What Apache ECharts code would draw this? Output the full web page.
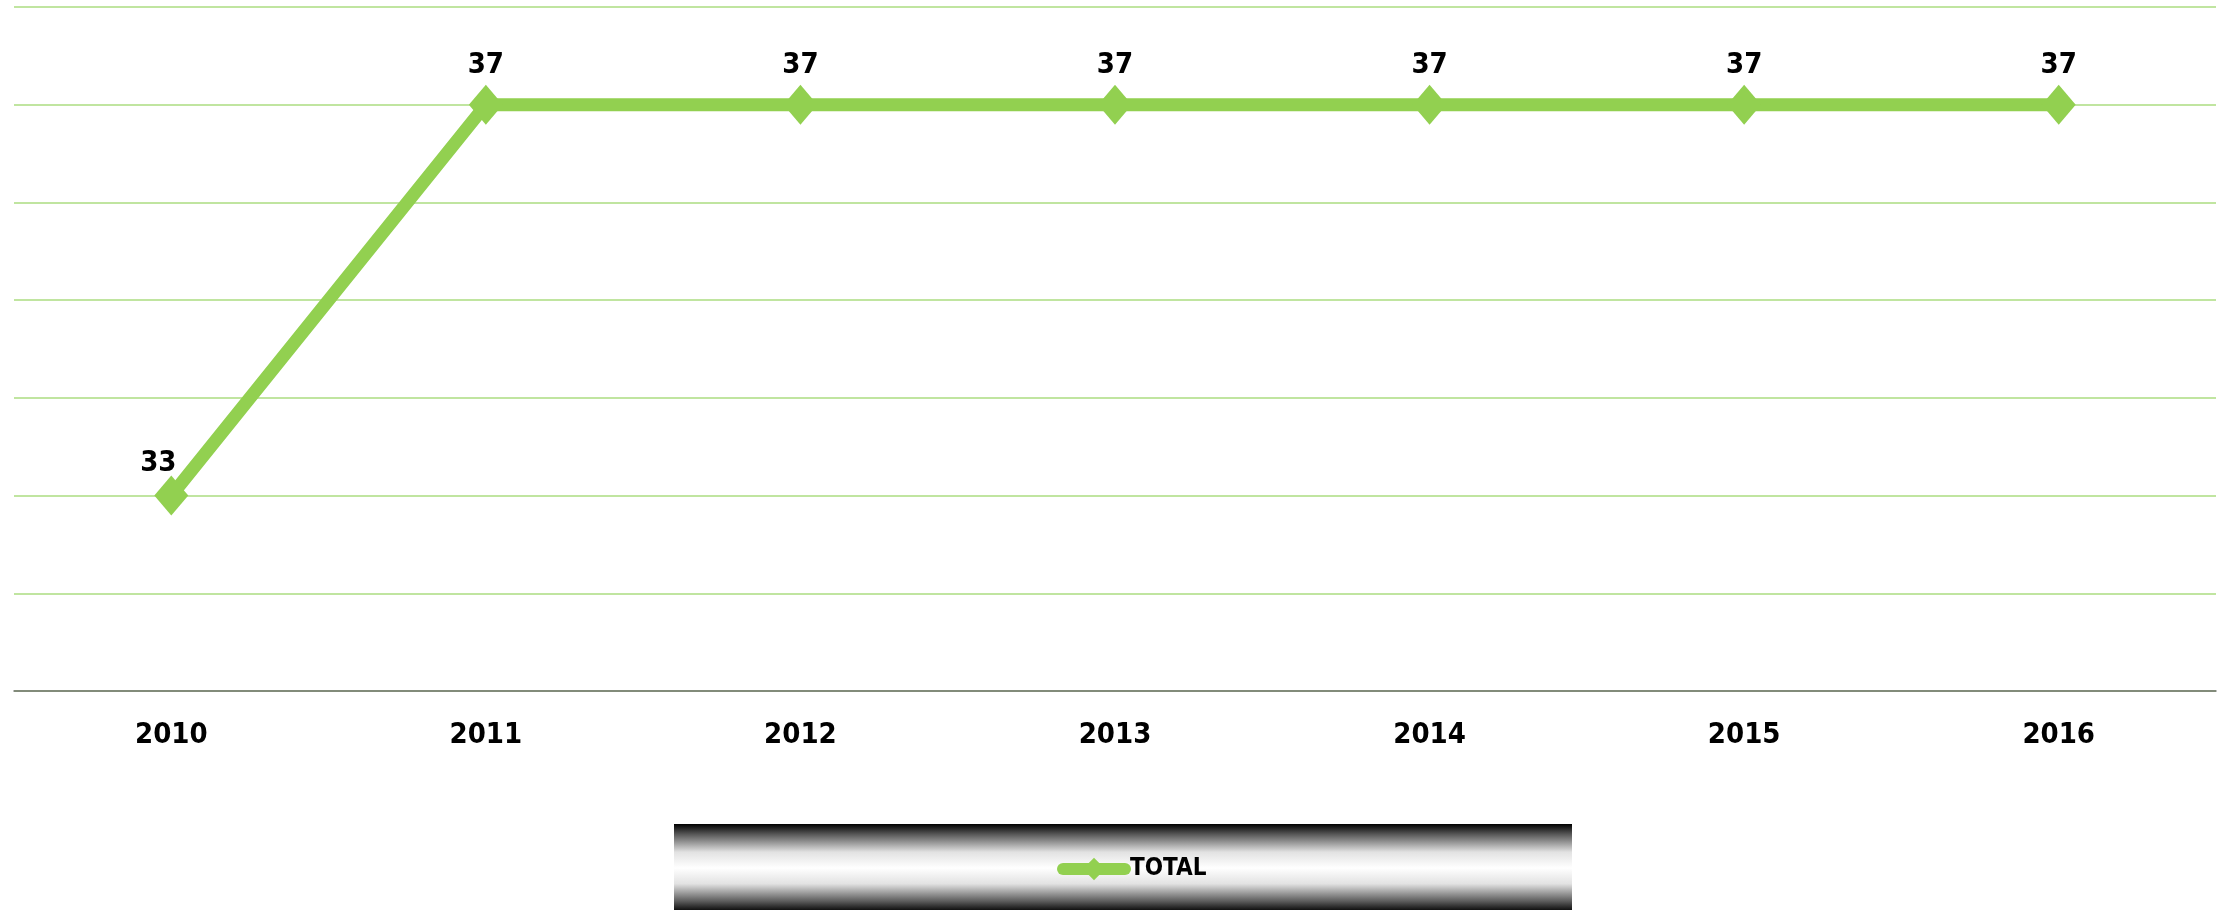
<!DOCTYPE html>
<html>
<head>
<meta charset="utf-8">
<script src="https://cdn.jsdelivr.net/npm/echarts@6/dist/echarts.min.js"></script>
<style>
  html, body { margin: 0; padding: 0; background: #fff; }
  #chart { width: 2224px; height: 910px; }
</style>
</head>
<body>
<div id="chart"></div>
<script>
const years = ["2010", "2011", "2012", "2013", "2014", "2015", "2016"];
const totals = [33, 37, 37, 37, 37, 37, 37];
const seriesName = "TOTAL";

const green = "#92D050";
const font = "'DejaVu Sans Condensed', 'Liberation Sans Narrow', sans-serif";

const chart = echarts.init(document.getElementById("chart"));

// first label sits a bit left and lower than the rest
const points = totals.map((v, i) => {
  if (i === 0) {
    return { value: v, label: { offset: [-13, 7] } };
  }
  return v;
});

const option = {
  animation: false,
  grid: { left: 14, right: 8, top: 7, bottom: 219 },
  graphic: [
    {
      type: "rect",
      z: -1,
      shape: { x: 674, y: 824, width: 898, height: 88 },
      style: {
        fill: new echarts.graphic.LinearGradient(0, 0, 0, 1, [
          { offset: 0, color: "#000000" },
          { offset: 0.12, color: "#5a5a5a" },
          { offset: 0.32, color: "#e2e2e2" },
          { offset: 0.5, color: "#ffffff" },
          { offset: 0.68, color: "#e2e2e2" },
          { offset: 0.88, color: "#5a5a5a" },
          { offset: 1, color: "#000000" },
        ]),
      },
    },
  ],
  legend: {
    left: 1052,
    top: 852,
    itemWidth: 62,
    itemHeight: 28,
    itemStyle: { color: green },
    lineStyle: { width: 12, cap: "round", color: green },
    textStyle: {
      fontFamily: font,
      fontWeight: "bold",
      fontSize: 24,
      color: "#000",
    },
    data: [seriesName],
  },
  xAxis: {
    type: "category",
    data: years,
    boundaryGap: true,
    axisLine: { lineStyle: { color: "#6e6e6e", width: 1.5 } },
    axisTick: { length: 10, lineStyle: { color: "#6e6e6e", width: 1.5 } },
    axisLabel: {
      margin: 30,
      fontFamily: font,
      fontWeight: "bold",
      fontSize: 29,
      color: "#000",
    },
  },
  yAxis: {
    type: "value",
    min: 31,
    max: 38,
    interval: 1,
    axisLine: { show: false },
    axisTick: { show: false },
    axisLabel: { show: false },
    splitLine: { lineStyle: { color: "#abdc80", width: 1.5 } },
  },
  series: [
    {
      name: seriesName,
      type: "line",
      data: points,
      symbol: "diamond",
      symbolSize: [34, 40],
      itemStyle: { color: green },
      lineStyle: { color: green, width: 13, cap: "round" },
      label: {
        show: true,
        position: "top",
        distance: 5,
        fontFamily: font,
        fontWeight: "bold",
        fontSize: 29,
        color: "#000",
      },
    },
  ],
};

chart.setOption(option);
</script>
</body>
</html>
